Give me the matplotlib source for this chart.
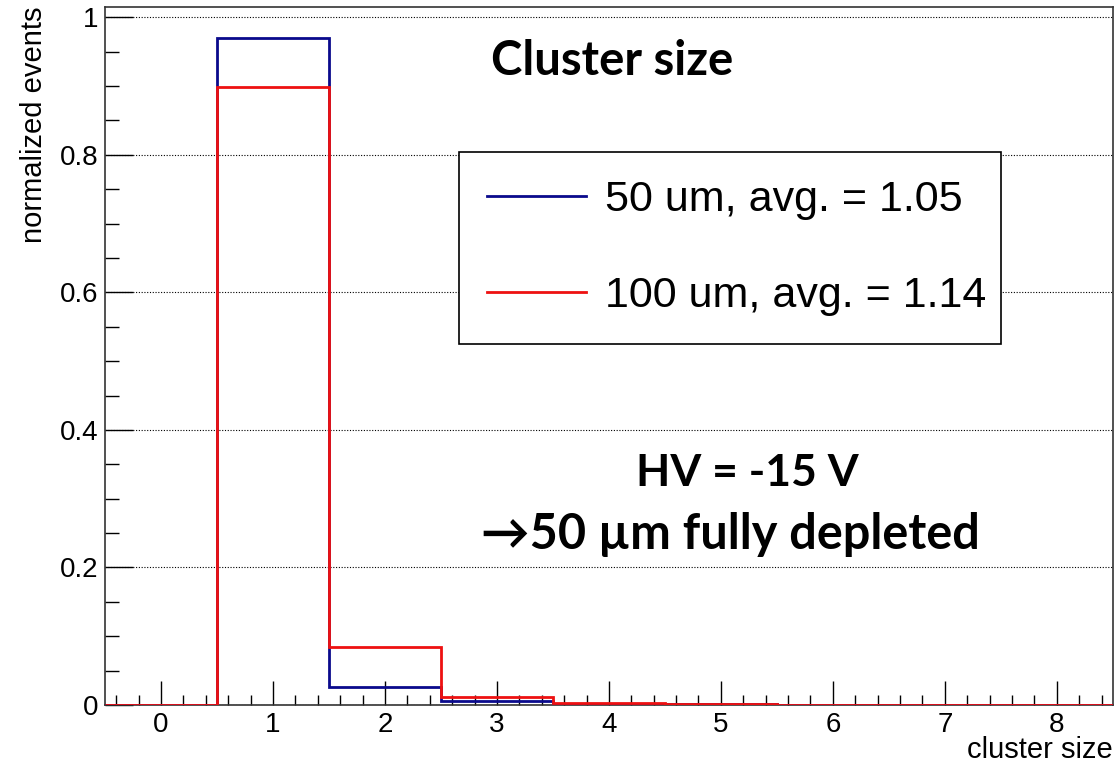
import matplotlib
matplotlib.use("Agg")
import matplotlib.pyplot as plt
from matplotlib.ticker import MultipleLocator, FuncFormatter
from matplotlib.lines import Line2D
import numpy as np

# histogram contents (bins centred on 0..8)
cluster_size = [0, 1, 2, 3, 4, 5, 6, 7, 8]
norm_50um = [0.0, 0.970, 0.026, 0.006, 0.002, 0.001, 0.0, 0.0, 0.0]
norm_100um = [0.0, 0.898, 0.085, 0.012, 0.003, 0.001, 0.0, 0.0, 0.0]
labels = ["50 um, avg. = 1.05", "100 um, avg. = 1.14"]
colors = ["#0a0a8c", "#ee1111"]

plt.rcParams['font.family'] = ['Liberation Sans', 'DejaVu Sans']

fig = plt.figure(figsize=(11.15, 7.67), dpi=100)
ax = fig.add_axes([0.0942, 0.0808, 0.9038, 0.9102])

edges = np.append(np.array(cluster_size) - 0.5, cluster_size[-1] + 0.5)
ax.stairs(norm_50um, edges, color=colors[0], lw=2.0, zorder=3)
ax.stairs(norm_100um, edges, color=colors[1], lw=2.0, zorder=4)

ax.set_xlim(-0.5, 8.5)
ax.set_ylim(0, 1.015)

# ROOT style ticks
ax.xaxis.set_major_locator(MultipleLocator(1))
ax.xaxis.set_minor_locator(MultipleLocator(0.2))
ax.yaxis.set_major_locator(MultipleLocator(0.2))
ax.yaxis.set_minor_locator(MultipleLocator(0.05))
ax.yaxis.set_major_formatter(FuncFormatter(lambda v, p: f"{v:g}"))
ax.tick_params(axis='x', which='major', direction='in', length=17, width=1,
               labelsize=20, pad=5, top=False)
ax.tick_params(axis='x', which='minor', direction='in', length=7, width=1, top=False)
ax.tick_params(axis='y', which='major', direction='in', length=20, width=1,
               labelsize=20, pad=5, right=False)
ax.tick_params(axis='y', which='minor', direction='in', length=10, width=1, right=False)

ax.yaxis.grid(True, linestyle=(0, (1, 1.5)), color='black', lw=0.8)
for s in ax.spines.values():
    s.set_color('#333333')
    s.set_linewidth(1.2)

ax.set_xlabel("cluster size", fontsize=21, loc='right')
ax.xaxis.set_label_coords(1.0, -0.045)
ax.xaxis.label.set_va('top')
ax.set_ylabel("normalized events", fontsize=21, loc='top', labelpad=8)

handles = [Line2D([], [], color=c, lw=2) for c in colors]
leg = ax.legend(handles, labels, loc='upper left', mode='expand',
                bbox_to_anchor=(0.351, 0.516, 0.538, 0.276), borderaxespad=0,
                fontsize=31, handlelength=2.3, handletextpad=0.45,
                labelspacing=1.3, borderpad=0.65, fancybox=False, framealpha=1)
leg.get_frame().set_edgecolor('black')
leg.get_frame().set_linewidth(1.2)

bold = ['Lato', 'DejaVu Sans']
ax.text(0.503, 0.9026, "Cluster size", transform=ax.transAxes, ha='center',
        va='baseline', fontsize=34, fontweight='bold', family=bold)
ax.text(0.6374, 0.3138, "HV = -15 V", transform=ax.transAxes, ha='center',
        va='baseline', fontsize=32, fontweight='bold', family=bold)
ax.text(0.6205, 0.2235, "\u219250 \u00b5m fully depleted", transform=ax.transAxes,
        ha='center', va='baseline', fontsize=35, fontweight='bold', family=bold)

fig.savefig("out.png", dpi=100)
